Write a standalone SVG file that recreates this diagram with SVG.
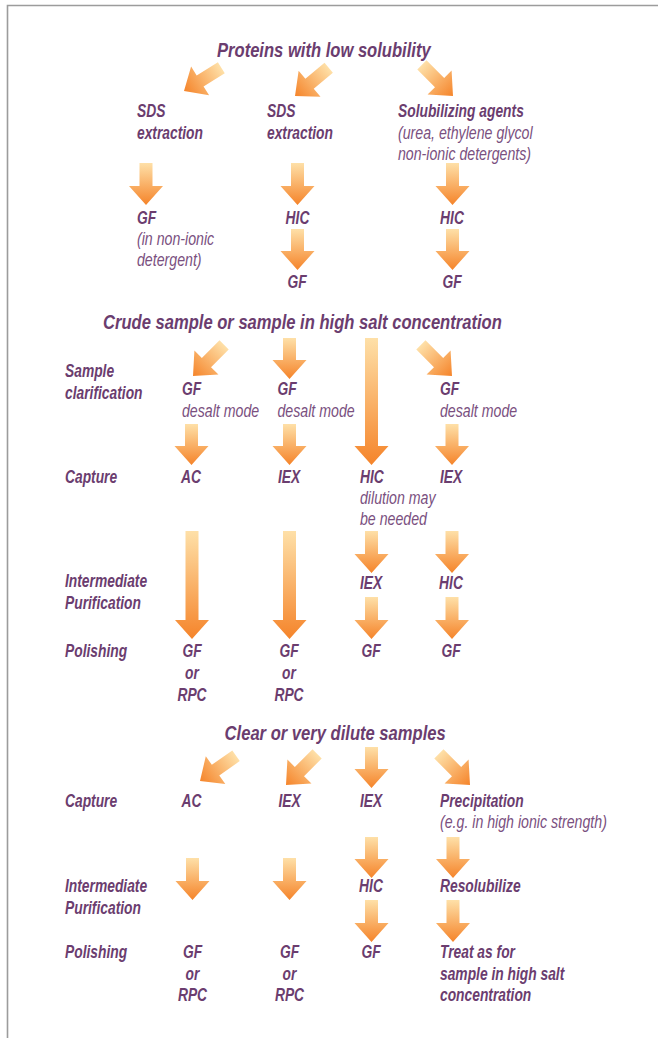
<svg xmlns="http://www.w3.org/2000/svg" xmlns:xlink="http://www.w3.org/1999/xlink" width="658" height="1038" viewBox="0 0 658 1038">
<style>
text{font-family:"Liberation Sans",Arial,sans-serif;font-style:italic;font-weight:bold;font-size:17.5px;fill:#6b3d6f}
text.h{font-size:21px}
text.l{font-weight:normal;fill:#7a5080}
text.m{text-anchor:middle}
.ar{fill:url(#g)}
.frame{stroke:#9c9c9c;stroke-width:1.6;fill:none}
</style>
<defs>
<linearGradient id="g" x1="0" y1="0" x2="0" y2="1">
<stop offset="0" stop-color="#fee0a8"/>
<stop offset="1" stop-color="#f5842a"/>
</linearGradient>
<path id="da" class="ar" d="M-6.5,-44H6.5V-19H17L0,0L-17,-19H-6.5Z"/>
</defs>
<rect width="658" height="1038" fill="#fff"/>
<path class="frame" d="M7.5,1038V5.5H658"/>

<g id="connectors">
<use href="#da" transform="translate(184,91) rotate(58)"/>
<use href="#da" transform="translate(295,96) rotate(50)"/>
<use href="#da" transform="translate(453,96) rotate(-45)"/>
<polygon class="ar" points="139.5,163 152.5,163 152.5,186 163,186 146,205 129,186 139.5,186"/>
<polygon class="ar" points="291,163 304,163 304,186 314.5,186 297.5,205 280.5,186 291,186"/>
<polygon class="ar" points="446,163 459,163 459,186 469.5,186 452.5,205 435.5,186 446,186"/>
<polygon class="ar" points="291,229 304,229 304,251 314.5,251 297.5,270 280.5,251 291,251"/>
<polygon class="ar" points="446,229 459,229 459,251 469.5,251 452.5,270 435.5,251 446,251"/>

<use href="#da" transform="translate(193,376) rotate(45)"/>
<use href="#da" transform="translate(452,376) rotate(-45)"/>
<polygon class="ar" points="283,338 296,338 296,360 306.5,360 289.5,379 272.5,360 283,360"/>
<polygon class="ar" points="365,338 378,338 378,446 388.5,446 371.5,465 354.5,446 365,446"/>
<polygon class="ar" points="185,424 198,424 198,446 208.5,446 191.5,465 174.5,446 185,446"/>
<polygon class="ar" points="283,424 296,424 296,446 306.5,446 289.5,465 272.5,446 283,446"/>
<polygon class="ar" points="445.5,424 458.5,424 458.5,446 469,446 452,465 435,446 445.5,446"/>
<polygon class="ar" points="185.5,531 198.5,531 198.5,620 209,620 192,639 175,620 185.5,620"/>
<polygon class="ar" points="283,531 296,531 296,620 306.5,620 289.5,639 272.5,620 283,620"/>
<polygon class="ar" points="365,531 378,531 378,554 388.5,554 371.5,573 354.5,554 365,554"/>
<polygon class="ar" points="445.5,531 458.5,531 458.5,554 469,554 452,573 435,554 445.5,554"/>
<polygon class="ar" points="365,597 378,597 378,620 388.5,620 371.5,639 354.5,620 365,620"/>
<polygon class="ar" points="445.5,597 458.5,597 458.5,620 469,620 452,639 435,620 445.5,620"/>

<use href="#da" transform="translate(200,781) rotate(55)"/>
<use href="#da" transform="translate(286,785) rotate(45)"/>
<use href="#da" transform="translate(470,785) rotate(-45)"/>
<polygon class="ar" points="365,747 378,747 378,769 388.5,769 371.5,788 354.5,769 365,769"/>
<polygon class="ar" points="365,837 378,837 378,859 388.5,859 371.5,878 354.5,859 365,859"/>
<polygon class="ar" points="446.5,837 459.5,837 459.5,859 470,859 453,878 436,859 446.5,859"/>
<polygon class="ar" points="186,858 199,858 199,881 209.5,881 192.5,900 175.5,881 186,881"/>
<polygon class="ar" points="283,858 296,858 296,881 306.5,881 289.5,900 272.5,881 283,881"/>
<polygon class="ar" points="365,900 378,900 378,923 388.5,923 371.5,942 354.5,923 365,923"/>
<polygon class="ar" points="446.5,900 459.5,900 459.5,923 470,923 453,942 436,923 446.5,923"/>
</g>

<!-- Section 1 -->
<g id="n-proteins"><text class="h" transform="translate(217,57) scale(.79,1)">Proteins with low solubility</text></g>
<g id="n-sds1"><text transform="translate(137,117) scale(.79,1)">SDS</text><text transform="translate(137,138.5) scale(.79,1)">extraction</text></g>
<g id="n-sds2"><text transform="translate(267,117) scale(.79,1)">SDS</text><text transform="translate(267,138.5) scale(.79,1)">extraction</text></g>
<g id="n-solub"><text transform="translate(398,117) scale(.79,1)">Solubilizing agents</text><text class="l" transform="translate(398,138.5) scale(.81,1)">(urea, ethylene glycol</text><text class="l" transform="translate(398,159.5) scale(.81,1)">non-ionic detergents)</text></g>
<g id="n-gf1"><text transform="translate(137,224) scale(.79,1)">GF</text><text class="l" transform="translate(137,245) scale(.81,1)">(in non-ionic</text><text class="l" transform="translate(137,266) scale(.81,1)">detergent)</text></g>
<g id="n-hic1"><text class="m" transform="translate(297.5,224) scale(.79,1)">HIC</text></g>
<g id="n-hic2"><text class="m" transform="translate(452,224) scale(.79,1)">HIC</text></g>
<g id="n-gf2"><text class="m" transform="translate(297,288) scale(.79,1)">GF</text></g>
<g id="n-gf3"><text class="m" transform="translate(452,288) scale(.79,1)">GF</text></g>

<!-- Section 2 -->
<g id="n-crude"><text class="h" transform="translate(103,329) scale(.79,1)">Crude sample or sample in high salt concentration</text></g>
<g id="lbl-clarification"><text transform="translate(65,377) scale(.79,1)">Sample</text><text transform="translate(65,399) scale(.79,1)">clarification</text></g>
<g id="n-gfd1"><text transform="translate(182,395) scale(.79,1)">GF</text><text class="l" transform="translate(182,417) scale(.81,1)">desalt mode</text></g>
<g id="n-gfd2"><text transform="translate(277.5,395) scale(.79,1)">GF</text><text class="l" transform="translate(277.5,417) scale(.81,1)">desalt mode</text></g>
<g id="n-gfd3"><text transform="translate(440,395) scale(.79,1)">GF</text><text class="l" transform="translate(440,417) scale(.81,1)">desalt mode</text></g>
<g id="lbl-capture1"><text transform="translate(65,483) scale(.79,1)">Capture</text></g>
<g id="n-ac1"><text class="m" transform="translate(191,483) scale(.79,1)">AC</text></g>
<g id="n-iex1"><text class="m" transform="translate(289,483) scale(.79,1)">IEX</text></g>
<g id="n-hic3"><text transform="translate(360,483) scale(.79,1)">HIC</text><text class="l" transform="translate(360,504) scale(.81,1)">dilution may</text><text class="l" transform="translate(360,524.5) scale(.81,1)">be needed</text></g>
<g id="n-iex2"><text class="m" transform="translate(451,483) scale(.79,1)">IEX</text></g>
<g id="lbl-inter1"><text transform="translate(65,587) scale(.79,1)">Intermediate</text><text transform="translate(65,608.5) scale(.79,1)">Purification</text></g>
<g id="n-iex3"><text class="m" transform="translate(371,589) scale(.79,1)">IEX</text></g>
<g id="n-hic4"><text class="m" transform="translate(451,589) scale(.79,1)">HIC</text></g>
<g id="lbl-polish1"><text transform="translate(65,657) scale(.79,1)">Polishing</text></g>
<g id="n-gfrpc1"><text class="m" transform="translate(192,657) scale(.79,1)">GF</text><text class="m" transform="translate(192,679) scale(.79,1)">or</text><text class="m" transform="translate(192,700.5) scale(.79,1)">RPC</text></g>
<g id="n-gfrpc2"><text class="m" transform="translate(289,657) scale(.79,1)">GF</text><text class="m" transform="translate(289,679) scale(.79,1)">or</text><text class="m" transform="translate(289,700.5) scale(.79,1)">RPC</text></g>
<g id="n-gf4"><text class="m" transform="translate(371,657) scale(.79,1)">GF</text></g>
<g id="n-gf5"><text class="m" transform="translate(451,657) scale(.79,1)">GF</text></g>

<!-- Section 3 -->
<g id="n-clear"><text class="h" transform="translate(224.6,740) scale(.79,1)">Clear or very dilute samples</text></g>
<g id="lbl-capture2"><text transform="translate(65,807) scale(.79,1)">Capture</text></g>
<g id="n-ac2"><text class="m" transform="translate(191.5,807) scale(.79,1)">AC</text></g>
<g id="n-iex4"><text class="m" transform="translate(289.5,807) scale(.79,1)">IEX</text></g>
<g id="n-iex5"><text class="m" transform="translate(371,807) scale(.79,1)">IEX</text></g>
<g id="n-precip"><text transform="translate(440,807) scale(.79,1)">Precipitation</text><text class="l" transform="translate(440,828) scale(.81,1)">(e.g. in high ionic strength)</text></g>
<g id="lbl-inter2"><text transform="translate(65,892) scale(.79,1)">Intermediate</text><text transform="translate(65,913.5) scale(.79,1)">Purification</text></g>
<g id="n-hic5"><text class="m" transform="translate(371,892) scale(.79,1)">HIC</text></g>
<g id="n-resol"><text transform="translate(440,892) scale(.79,1)">Resolubilize</text></g>
<g id="lbl-polish2"><text transform="translate(65,958) scale(.79,1)">Polishing</text></g>
<g id="n-gfrpc3"><text class="m" transform="translate(192.5,958) scale(.79,1)">GF</text><text class="m" transform="translate(192.5,980) scale(.79,1)">or</text><text class="m" transform="translate(192.5,1001) scale(.79,1)">RPC</text></g>
<g id="n-gfrpc4"><text class="m" transform="translate(289.5,958) scale(.79,1)">GF</text><text class="m" transform="translate(289.5,980) scale(.79,1)">or</text><text class="m" transform="translate(289.5,1001) scale(.79,1)">RPC</text></g>
<g id="n-gf6"><text class="m" transform="translate(371,958) scale(.79,1)">GF</text></g>
<g id="n-treat"><text transform="translate(440,958) scale(.79,1)">Treat as for</text><text transform="translate(440,980) scale(.79,1)">sample in high salt</text><text transform="translate(440,1001) scale(.79,1)">concentration</text></g>
</svg>
